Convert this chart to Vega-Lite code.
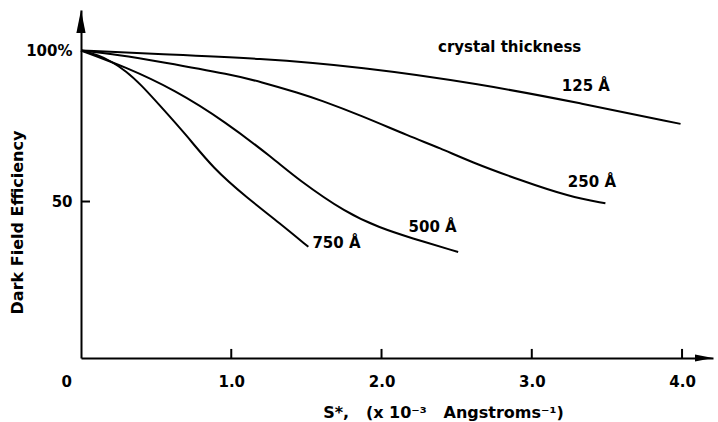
{
  "$schema": "https://vega.github.io/schema/vega-lite/v6.json",
  "width": 632,
  "height": 348,
  "autosize": {"type": "none"},
  "padding": {"left": 81, "top": 10, "right": 5, "bottom": 64},
  "background": "white",
  "config": {"view": {"stroke": null}, "font": "DejaVu Sans"},
  "datasets": {
    "curves": [
      {"thickness": "125", "s": 0, "eff": 100},
      {"thickness": "125", "s": 0.526, "eff": 98.8},
      {"thickness": "125", "s": 1.19, "eff": 97.4},
      {"thickness": "125", "s": 1.86, "eff": 94.6},
      {"thickness": "125", "s": 2.66, "eff": 88.9},
      {"thickness": "125", "s": 3.32, "eff": 82.6},
      {"thickness": "125", "s": 3.99, "eff": 75.7},
      {"thickness": "250", "s": 0, "eff": 100},
      {"thickness": "250", "s": 0.25, "eff": 98.6},
      {"thickness": "250", "s": 0.526, "eff": 96.3},
      {"thickness": "250", "s": 1.01, "eff": 91.9},
      {"thickness": "250", "s": 1.19, "eff": 89.7},
      {"thickness": "250", "s": 1.458, "eff": 85.8},
      {"thickness": "250", "s": 1.59, "eff": 83.6},
      {"thickness": "250", "s": 1.857, "eff": 78.6},
      {"thickness": "250", "s": 2.19, "eff": 71.5},
      {"thickness": "250", "s": 2.39, "eff": 67.7},
      {"thickness": "250", "s": 2.59, "eff": 63.2},
      {"thickness": "250", "s": 2.92, "eff": 57.1},
      {"thickness": "250", "s": 3.25, "eff": 51.6},
      {"thickness": "250", "s": 3.49, "eff": 49.4},
      {"thickness": "500", "s": 0, "eff": 100},
      {"thickness": "500", "s": 0.293, "eff": 94.6},
      {"thickness": "500", "s": 0.626, "eff": 86.9},
      {"thickness": "500", "s": 0.958, "eff": 76.5},
      {"thickness": "500", "s": 1.291, "eff": 63.8},
      {"thickness": "500", "s": 1.436, "eff": 57.6},
      {"thickness": "500", "s": 1.768, "eff": 46.1},
      {"thickness": "500", "s": 1.99, "eff": 41.3},
      {"thickness": "500", "s": 2.19, "eff": 38.0},
      {"thickness": "500", "s": 2.51, "eff": 33.3},
      {"thickness": "750", "s": 0, "eff": 100},
      {"thickness": "750", "s": 0.125, "eff": 98.3},
      {"thickness": "750", "s": 0.2, "eff": 96.4},
      {"thickness": "750", "s": 0.3, "eff": 93.2},
      {"thickness": "750", "s": 0.4, "eff": 88.6},
      {"thickness": "750", "s": 0.512, "eff": 82.5},
      {"thickness": "750", "s": 0.705, "eff": 71.8},
      {"thickness": "750", "s": 0.879, "eff": 61.0},
      {"thickness": "750", "s": 1.103, "eff": 51.3},
      {"thickness": "750", "s": 1.324, "eff": 42.8},
      {"thickness": "750", "s": 1.513, "eff": 35.0}
    ],
    "labels": [
      {"s": 2.376, "eff": 101.3, "text": "crystal thickness"},
      {"s": 3.2, "eff": 88.4, "text": "125 Å"},
      {"s": 3.24, "eff": 56.3, "text": "250 Å"},
      {"s": 2.18, "eff": 41.7, "text": "500 Å"},
      {"s": 1.54, "eff": 36.4, "text": "750 Å"}
    ],
    "xticks": [{"s": 1}, {"s": 2}, {"s": 3}, {"s": 4}],
    "yticks": [{"eff": 50}],
    "yarrow": [{"s": 0, "eff": 113.4}],
    "xarrow": [{"s": 4.206, "eff": -1.8}]
  },
  "layer": [
    {
      "data": {"name": "curves"},
      "mark": {"type": "line", "interpolate": "basis", "color": "black", "strokeWidth": 2},
      "encoding": {
        "x": {
          "field": "s", "type": "quantitative",
          "scale": {"domain": [0, 4.206], "nice": false, "zero": false},
          "axis": {
            "values": [0, 1, 2, 3, 4],
            "labelExpr": "datum.value == 0 ? '0' : format(datum.value, '.1f')",
            "labelOffset": {"condition": {"test": "datum.value == 0", "value": -20}, "value": 0},
            "title": "S*,\u00a0\u00a0\u00a0(x\u00a010⁻³\u00a0\u00a0\u00a0Angstroms⁻¹)",
            "grid": false,
            "ticks": false,
            "domainColor": "black", "domainWidth": 2,
            "labelPadding": 16,
            "labelFont": "DejaVu Sans", "labelFontSize": 15, "labelFontWeight": "bold", "labelColor": "black",
            "titleFont": "DejaVu Sans", "titleFontSize": 16, "titleFontWeight": "bold", "titleColor": "black",
            "titleX": 362, "titleY": 54, "titleBaseline": "middle", "titleAlign": "center"
          }
        },
        "y": {
          "field": "eff", "type": "quantitative",
          "scale": {"domain": [-1.8, 113.4], "nice": false, "zero": false},
          "axis": {
            "values": [50, 100],
            "labelExpr": "datum.value == 100 ? '100%' : datum.label",
            "title": "Dark Field Efficiency",
            "grid": false,
            "ticks": false,
            "domainColor": "black", "domainWidth": 2,
            "labelPadding": 9,
            "labelFont": "DejaVu Sans", "labelFontSize": 15, "labelFontWeight": "bold", "labelColor": "black",
            "titleFont": "DejaVu Sans", "titleFontSize": 16, "titleFontWeight": "bold", "titleColor": "black",
            "titleX": -64, "titleY": 212, "titleAngle": -90, "titleBaseline": "middle", "titleAlign": "center"
          }
        },
        "detail": {"field": "thickness", "type": "nominal"}
      }
    },
    {
      "data": {"name": "labels"},
      "mark": {"type": "text", "font": "DejaVu Sans", "fontSize": 15, "fontWeight": "bold", "align": "left", "baseline": "middle", "color": "black"},
      "encoding": {
        "x": {"field": "s", "type": "quantitative"},
        "y": {"field": "eff", "type": "quantitative"},
        "text": {"field": "text"}
      }
    },
    {
      "data": {"name": "xticks"},
      "mark": {"type": "rule", "color": "black", "strokeWidth": 2},
      "encoding": {
        "x": {"field": "s", "type": "quantitative"},
        "y": {"datum": -1.8},
        "y2": {"datum": 1.2}
      }
    },
    {
      "data": {"name": "yticks"},
      "mark": {"type": "rule", "color": "black", "strokeWidth": 2},
      "encoding": {
        "y": {"field": "eff", "type": "quantitative"},
        "x": {"datum": 0},
        "x2": {"datum": 0.06}
      }
    },
    {
      "data": {"name": "yarrow"},
      "mark": {"type": "point", "shape": "M0,0L0.4,2L-0.4,2Z", "size": 529, "filled": true, "color": "black", "opacity": 1},
      "encoding": {
        "x": {"field": "s", "type": "quantitative"},
        "y": {"field": "eff", "type": "quantitative"}
      }
    },
    {
      "data": {"name": "xarrow"},
      "mark": {"type": "point", "shape": "M0,0L-2,-0.4L-2,0.4Z", "size": 324, "filled": true, "color": "black", "opacity": 1},
      "encoding": {
        "x": {"field": "s", "type": "quantitative"},
        "y": {"field": "eff", "type": "quantitative"}
      }
    }
  ]
}
